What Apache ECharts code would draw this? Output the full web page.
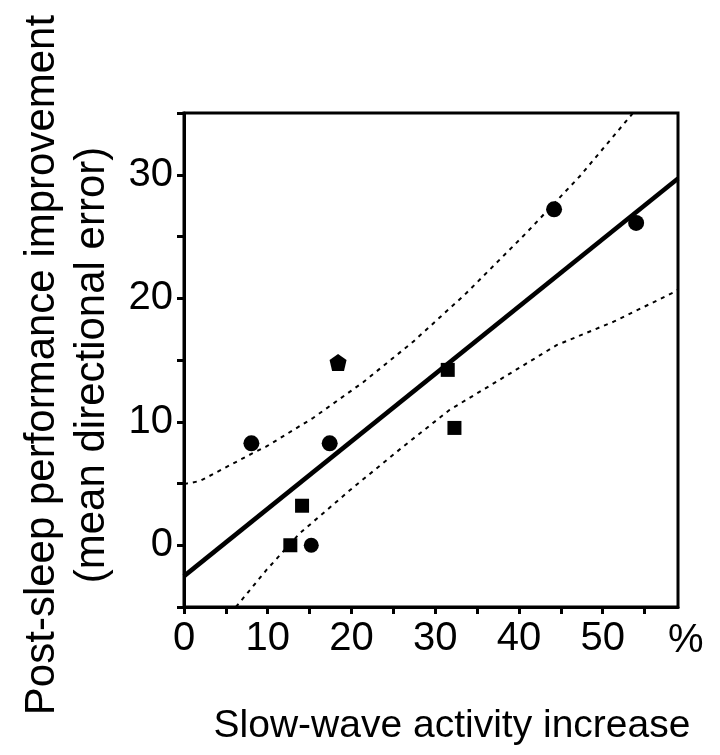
<!DOCTYPE html>
<html>
<head>
<meta charset="utf-8">
<script src="https://cdn.jsdelivr.net/npm/echarts@6/dist/echarts.min.js"></script>
<style>
html,body{margin:0;padding:0;background:#fff;}
#chart{width:720px;height:755px;}
</style>
</head>
<body>
<div id="chart"></div>
<script>
// ---- data ----
var swaIncrease = [8.05, 12.7, 14.1, 15.2, 17.4, 18.4, 31.5, 32.3, 44.2, 54.0];
var perfImprovement = [8.25, 0.0, 3.2, 0.0, 8.25, 14.8, 14.2, 9.5, 27.2, 26.1];

var fitX = [0, 59];
var fitY = [-2.5, 29.7];

var upperX = [0, 1.9, 8.05, 9.85, 15.4, 21.4, 27.4, 33.7, 40.9, 47.3, 53.5, 53.6];
var upperY = [4.95, 5.2, 7.4, 8.0, 10.3, 13.2, 16.5, 20.4, 25.3, 29.9, 34.9, 35.0];

var lowerX = [6.2, 9.85, 13.8, 19.8, 26.2, 31.7, 37.7, 44.5, 51.3, 58.4, 59];
var lowerY = [-5.0, -2.0, 0.95, 4.45, 8.0, 10.95, 13.4, 16.2, 18.1, 20.45, 20.7];

var xTickLabels = ['0', '10', '20', '30', '40', '50'];
var yTickLabels = ['0', '10', '20', '30'];
var xUnit = '%';
var xTitle = 'Slow-wave activity increase';
var yTitle = 'Post-sleep performance improvement\n(mean directional error)';

// ---- styling (kept apart from data) ----
var pentagon = 'path://M0,-10 L10,-3 L7,10 L-7,10 L-10,-3 Z';
var markerShapes = ['circle', 'rect', 'rect', 'circle', 'circle', pentagon, 'rect', 'rect', 'circle', 'circle'];
var markerSizes = [16, 14, 14, 15, 16, 17, 14, 14, 16, 16];
var FONT = '"Liberation Sans", Arial, sans-serif';

function zip(a, b) { return a.map(function (v, i) { return [v, b[i]]; }); }

var scatterData = swaIncrease.map(function (x, i) {
  return { value: [x, perfImprovement[i]], symbol: markerShapes[i], symbolSize: markerSizes[i] };
});

var chart = echarts.init(document.getElementById('chart'), null, { renderer: 'canvas' });
chart.setOption({
  animation: false,
  backgroundColor: '#fff',
  grid: { left: 184, right: 42, top: 113, bottom: 148, show: true, borderColor: '#000', borderWidth: 3, containLabel: false },
  xAxis: [{
    type: 'value', min: 0, max: 59, interval: 5,
    axisLine: { show: true, onZero: false, lineStyle: { color: '#000', width: 3 } },
    axisTick: { show: true, length: 7, lineStyle: { color: '#000', width: 3 } },
    splitLine: { show: false },
    axisLabel: {
      color: '#000', fontSize: 40, fontFamily: FONT, margin: 12, showMaxLabel: false,
      formatter: function (v) { var s = String(Math.round(v)); return xTickLabels.indexOf(s) >= 0 && Math.abs(v - Math.round(v)) < 1e-6 ? s : ''; }
    },
    name: xUnit, nameLocation: 'end', nameGap: -10,
    nameTextStyle: { color: '#000', fontSize: 40, fontFamily: FONT, verticalAlign: 'top', padding: [14, 0, 0, 0] }
  }, {
    type: 'value', min: 0, max: 59, position: 'bottom',
    axisLine: { show: false }, axisTick: { show: false }, axisLabel: { show: false }, splitLine: { show: false },
    name: xTitle, nameLocation: 'middle', nameGap: 100,
    nameTextStyle: { color: '#000', fontSize: 39, fontFamily: FONT, padding: [0, 0, 0, 42] }
  }],
  yAxis: [{
    type: 'value', min: -5, max: 35, interval: 5,
    axisLine: { show: true, onZero: false, lineStyle: { color: '#000', width: 3 } },
    axisTick: { show: true, length: 7, lineStyle: { color: '#000', width: 3 } },
    splitLine: { show: false },
    axisLabel: {
      color: '#000', fontSize: 40, fontFamily: FONT, margin: 11,
      formatter: function (v) { var s = String(Math.round(v)); return yTickLabels.indexOf(s) >= 0 ? s : ''; }
    },
    name: yTitle, nameLocation: 'middle', nameGap: 66,
    nameTextStyle: { color: '#000', fontSize: 42, lineHeight: 50, fontFamily: FONT, align: 'center', padding: [0, 10, 0, 0] }
  }],
  series: [
    { type: 'line', data: zip(upperX, upperY), showSymbol: false, symbol: 'none', clip: true,
      lineStyle: { color: '#000', width: 2, type: [4, 5] }, z: 2 },
    { type: 'line', data: zip(lowerX, lowerY), showSymbol: false, symbol: 'none', clip: true,
      lineStyle: { color: '#000', width: 2, type: [4, 5] }, z: 2 },
    { type: 'line', data: zip(fitX, fitY), showSymbol: false, symbol: 'none', clip: false,
      lineStyle: { color: '#000', width: 4.5 }, z: 3 },
    { type: 'scatter', data: scatterData, itemStyle: { color: '#000', opacity: 1 }, z: 4 }
  ]
});
</script>
</body>
</html>
